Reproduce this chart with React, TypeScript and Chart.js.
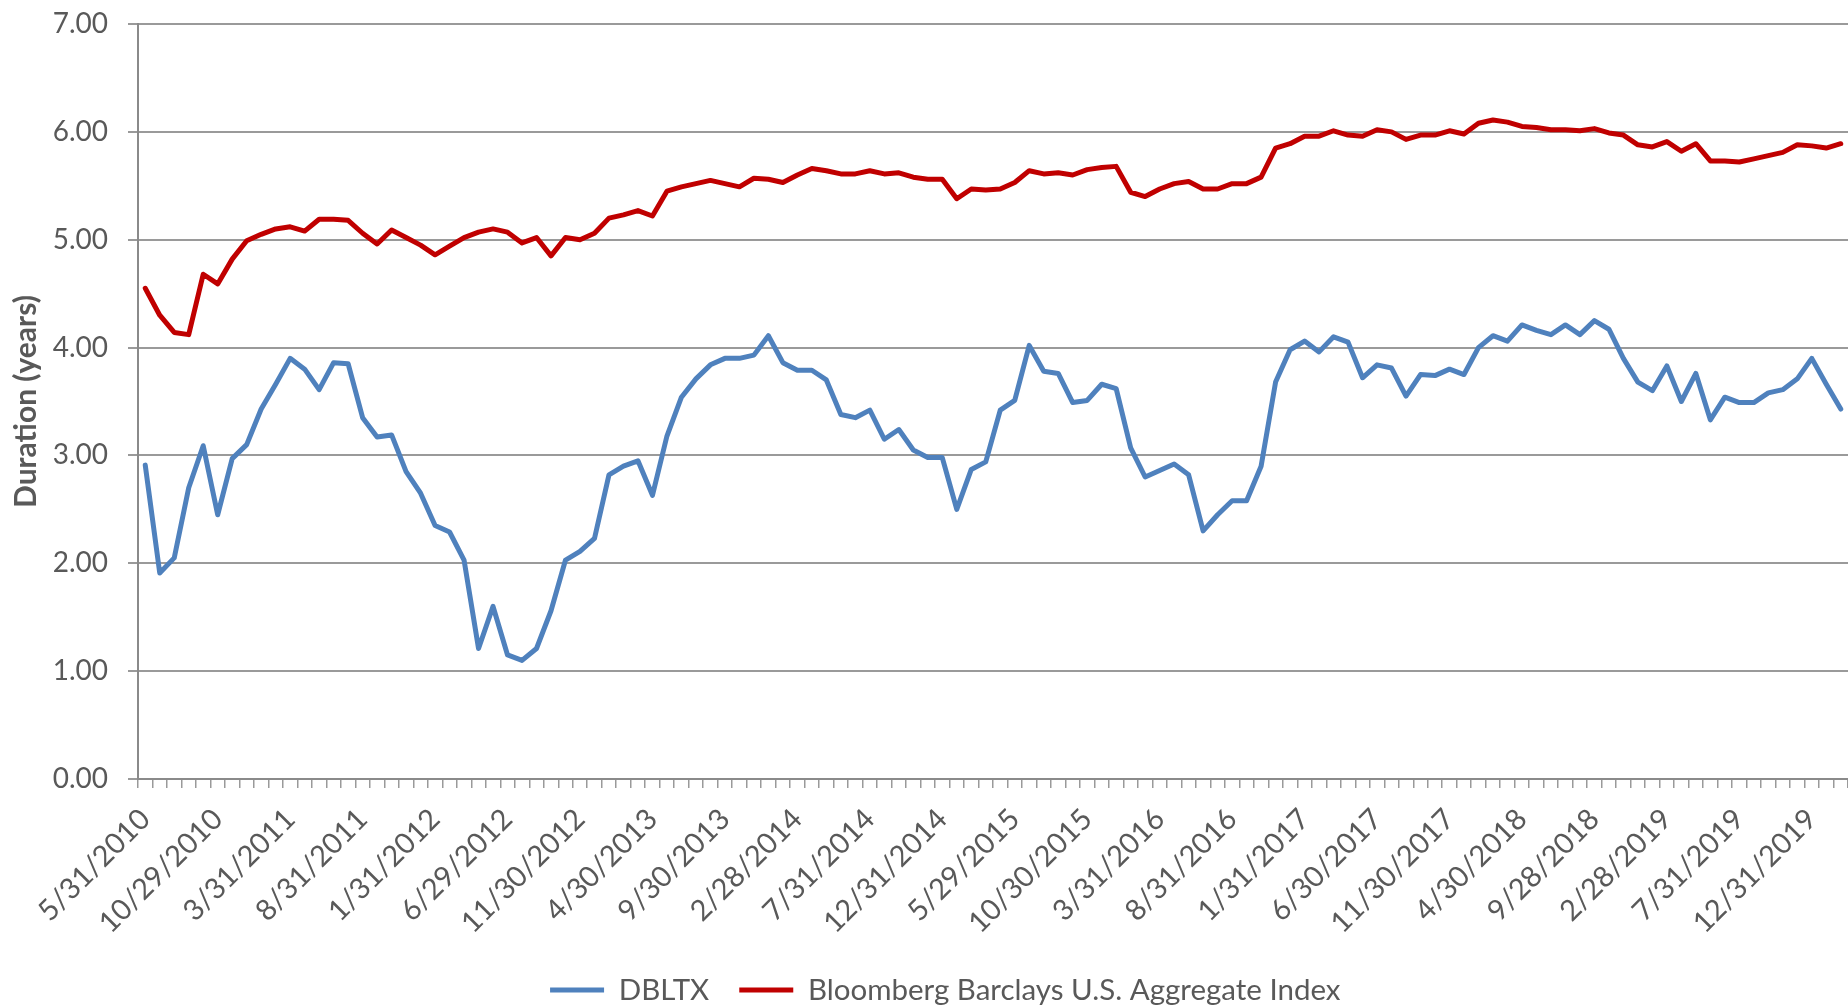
import React, { useEffect, useRef } from "react";
import { Chart, registerables } from "chart.js";

Chart.register(...registerables);

// Month-end (last business day) observation dates
const monthEnds = [
  "5/31/2010", "6/30/2010", "7/30/2010", "8/31/2010", "9/30/2010", "10/29/2010", "11/30/2010", "12/31/2010",
  "1/31/2011", "2/28/2011", "3/31/2011", "4/29/2011", "5/31/2011", "6/30/2011", "7/29/2011", "8/31/2011", "9/30/2011", "10/31/2011", "11/30/2011", "12/30/2011",
  "1/31/2012", "2/29/2012", "3/30/2012", "4/30/2012", "5/31/2012", "6/29/2012", "7/31/2012", "8/31/2012", "9/28/2012", "10/31/2012", "11/30/2012", "12/31/2012",
  "1/31/2013", "2/28/2013", "3/29/2013", "4/30/2013", "5/31/2013", "6/28/2013", "7/31/2013", "8/30/2013", "9/30/2013", "10/31/2013", "11/29/2013", "12/31/2013",
  "1/31/2014", "2/28/2014", "3/31/2014", "4/30/2014", "5/30/2014", "6/30/2014", "7/31/2014", "8/29/2014", "9/30/2014", "10/31/2014", "11/28/2014", "12/31/2014",
  "1/30/2015", "2/27/2015", "3/31/2015", "4/30/2015", "5/29/2015", "6/30/2015", "7/31/2015", "8/31/2015", "9/30/2015", "10/30/2015", "11/30/2015", "12/31/2015",
  "1/29/2016", "2/29/2016", "3/31/2016", "4/29/2016", "5/31/2016", "6/30/2016", "7/29/2016", "8/31/2016", "9/30/2016", "10/31/2016", "11/30/2016", "12/30/2016",
  "1/31/2017", "2/28/2017", "3/31/2017", "4/28/2017", "5/31/2017", "6/30/2017", "7/31/2017", "8/31/2017", "9/29/2017", "10/31/2017", "11/30/2017", "12/29/2017",
  "1/31/2018", "2/28/2018", "3/29/2018", "4/30/2018", "5/31/2018", "6/29/2018", "7/31/2018", "8/31/2018", "9/28/2018", "10/31/2018", "11/30/2018", "12/31/2018",
  "1/31/2019", "2/28/2019", "3/29/2019", "4/30/2019", "5/31/2019", "6/28/2019", "7/31/2019", "8/30/2019", "9/30/2019", "10/31/2019", "11/29/2019", "12/31/2019",
  "1/31/2020", "2/28/2020",
];

// Dates printed under the x axis
const tickLabels = [
  "5/31/2010", "10/29/2010", "3/31/2011", "8/31/2011", "1/31/2012", "6/29/2012",
  "11/30/2012", "4/30/2013", "9/30/2013", "2/28/2014", "7/31/2014", "12/31/2014",
  "5/29/2015", "10/30/2015", "3/31/2016", "8/31/2016", "1/31/2017", "6/30/2017",
  "11/30/2017", "4/30/2018", "9/28/2018", "2/28/2019", "7/31/2019", "12/31/2019",
];

// Fund duration (years)
const dbltx = [
  2.91, 1.91, 2.05, 2.70, 3.09, 2.45, 2.97, 3.10, 3.43, 3.66,
  3.90, 3.80, 3.61, 3.86, 3.85, 3.35, 3.17, 3.19, 2.85, 2.65,
  2.35, 2.29, 2.03, 1.21, 1.60, 1.15, 1.10, 1.21, 1.56, 2.03,
  2.11, 2.23, 2.82, 2.90, 2.95, 2.63, 3.18, 3.54, 3.71, 3.84,
  3.90, 3.90, 3.93, 4.11, 3.86, 3.79, 3.79, 3.70, 3.38, 3.35,
  3.42, 3.15, 3.24, 3.05, 2.98, 2.98, 2.50, 2.87, 2.94, 3.42,
  3.51, 4.02, 3.78, 3.76, 3.49, 3.51, 3.66, 3.62, 3.07, 2.80,
  2.86, 2.92, 2.82, 2.30, 2.45, 2.58, 2.58, 2.90, 3.68, 3.98,
  4.06, 3.96, 4.10, 4.05, 3.72, 3.84, 3.81, 3.55, 3.75, 3.74,
  3.80, 3.75, 4.00, 4.11, 4.06, 4.21, 4.16, 4.12, 4.21, 4.12,
  4.25, 4.17, 3.90, 3.68, 3.60, 3.83, 3.50, 3.76, 3.33, 3.54,
  3.49, 3.49, 3.58, 3.61, 3.71, 3.90, 3.66, 3.43,
];

// Benchmark duration (years)
const aggregateIndex = [
  4.55, 4.30, 4.14, 4.12, 4.68, 4.59, 4.82, 4.99, 5.05, 5.10,
  5.12, 5.08, 5.19, 5.19, 5.18, 5.06, 4.96, 5.09, 5.02, 4.95,
  4.86, 4.94, 5.02, 5.07, 5.10, 5.07, 4.97, 5.02, 4.85, 5.02,
  5.00, 5.06, 5.20, 5.23, 5.27, 5.22, 5.45, 5.49, 5.52, 5.55,
  5.52, 5.49, 5.57, 5.56, 5.53, 5.60, 5.66, 5.64, 5.61, 5.61,
  5.64, 5.61, 5.62, 5.58, 5.56, 5.56, 5.38, 5.47, 5.46, 5.47,
  5.53, 5.64, 5.61, 5.62, 5.60, 5.65, 5.67, 5.68, 5.44, 5.40,
  5.47, 5.52, 5.54, 5.47, 5.47, 5.52, 5.52, 5.58, 5.85, 5.89,
  5.96, 5.96, 6.01, 5.97, 5.96, 6.02, 6.00, 5.93, 5.97, 5.97,
  6.01, 5.98, 6.08, 6.11, 6.09, 6.05, 6.04, 6.02, 6.02, 6.01,
  6.03, 5.99, 5.97, 5.88, 5.86, 5.91, 5.82, 5.89, 5.73, 5.73,
  5.72, 5.75, 5.78, 5.81, 5.88, 5.87, 5.85, 5.89,
];

const seriesNames = ["DBLTX", "Bloomberg Barclays U.S. Aggregate Index"];
const seriesColors = ["#4F81BD", "#C00000"];

const TEXT = "#595959";
const GRID = "#9a9a9a";
const AXIS = "#8a8a8a";

// Nudges the centred legend row a little to the right
const legendNudge = {
  id: "legendNudge",
  afterLayout(chart: any) {
    const lg = chart.legend;
    if (lg) {
      lg.left += 19;
      lg.right += 19;
    }
  },
};

export default function App() {
  const canvasRef = useRef<HTMLCanvasElement | null>(null);

  useEffect(() => {
    if (!canvasRef.current) return;
    Chart.defaults.font.family = "Lato, 'Open Sans', sans-serif";
    const shown = new Set(tickLabels);

    const lineStyle = {
      borderWidth: 5,
      pointRadius: 0,
      pointHoverRadius: 0,
      tension: 0,
      borderJoinStyle: "round",
      borderCapStyle: "round",
    };

    const chart = new Chart(canvasRef.current, {
      type: "line",
      data: {
        labels: monthEnds,
        datasets: [
          {
            label: seriesNames[0],
            data: dbltx,
            borderColor: seriesColors[0],
            backgroundColor: seriesColors[0],
            ...lineStyle,
          },
          {
            label: seriesNames[1],
            data: aggregateIndex,
            borderColor: seriesColors[1],
            backgroundColor: seriesColors[1],
            ...lineStyle,
          },
        ],
      },
      options: {
        animation: false,
        responsive: true,
        maintainAspectRatio: false,
        layout: { padding: { top: 24, left: 0, right: -4.6, bottom: -8.75 } },
        plugins: {
          tooltip: { enabled: false },
          legend: {
            position: "bottom",
            labels: {
              boxWidth: 54,
              boxHeight: 5,
              padding: 30,
              color: TEXT,
              font: { size: 29.5 },
              generateLabels: (c: any) =>
                c.data.datasets.map((ds: any, i: number) => ({
                  text: ds.label,
                  fillStyle: ds.borderColor,
                  strokeStyle: ds.borderColor,
                  lineWidth: 0,
                  hidden: false,
                  datasetIndex: i,
                  fontColor: TEXT,
                })),
            },
          },
        },
        scales: {
          x: {
            offset: true,
            grid: {
              offset: true,
              drawOnChartArea: false,
              drawTicks: true,
              tickLength: 9,
              color: GRID,
              lineWidth: 1.5,
            },
            border: { display: true, color: AXIS, width: 2 },
            ticks: {
              autoSkip: false,
              minRotation: 45,
              maxRotation: 45,
              color: TEXT,
              font: { size: 29 },
              padding: 14,
              callback: (_v: any, i: number) => (shown.has(monthEnds[i]) ? monthEnds[i] : ""),
            },
            afterFit: (s: any) => {
              s.height = 166.25;
              s.paddingRight = -4.6;
            },
          },
          y: {
            min: 0,
            max: 7,
            ticks: {
              stepSize: 1,
              color: TEXT,
              font: { size: 28 },
              padding: 20,
              callback: (v: any) => Number(v).toFixed(2),
            },
            grid: { color: GRID, lineWidth: 2, tickLength: 10, drawTicks: true },
            border: { display: true, color: AXIS, width: 2 },
            title: {
              display: true,
              text: "Duration (years)",
              color: TEXT,
              font: { size: 30, weight: "bold" },
              padding: { top: 8, bottom: 0 },
            },
            afterFit: (s: any) => {
              s.width = 138;
              s.paddingTop = 0;
              s.paddingBottom = 0;
            },
          },
        },
      },
      plugins: [legendNudge],
    } as any);

    return () => chart.destroy();
  }, []);

  return (
    <div
      style={{
        position: "fixed",
        left: 0,
        top: 0,
        width: "1848px",
        height: "1006px",
        background: "#ffffff",
        overflow: "hidden",
      }}
    >
      <canvas ref={canvasRef} />
    </div>
  );
}
